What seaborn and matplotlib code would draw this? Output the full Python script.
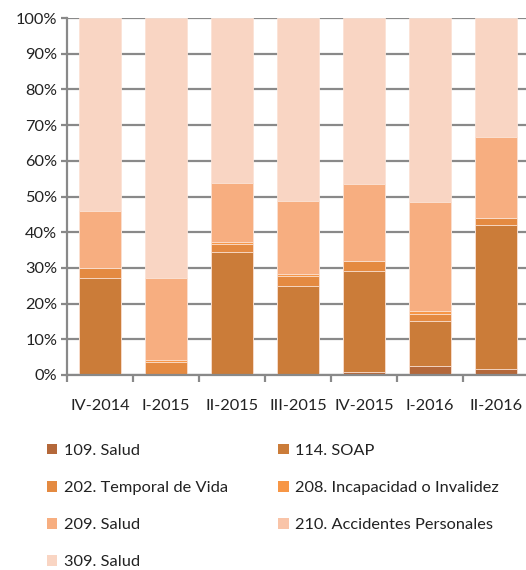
import numpy as np
import pandas as pd
import matplotlib
matplotlib.use("Agg")
import matplotlib.pyplot as plt
from matplotlib.patches import Patch
from matplotlib.ticker import FixedLocator, FuncFormatter
import seaborn as sns

categories = ['IV-2014', 'I-2015', 'II-2015', 'III-2015', 'IV-2015', 'I-2016', 'II-2016']
series_names = ['109. Salud', '114. SOAP', '202. Temporal de Vida',
                '208. Incapacidad o Invalidez', '209. Salud',
                '210. Accidentes Personales', '309. Salud']
s109 = [0.0, 0.0, 0.0, 0.4, 0.9, 2.4, 1.6]
s114 = [27.1, 0.3, 34.5, 24.6, 28.3, 12.6, 40.5]
s202 = [3.0, 3.3, 2.3, 2.7, 2.7, 2.2, 1.9]
s208 = [0.0, 0.7, 0.5, 0.5, 0.0, 0.7, 0.0]
s209 = [15.8, 22.9, 16.5, 20.4, 21.7, 30.6, 22.6]
s210 = [0.0, 0.0, 0.0, 0.0, 0.0, 0.0, 0.0]
s309 = [54.1, 72.8, 46.2, 51.4, 46.4, 51.5, 33.4]
colors = ['#B4683A', '#CB7C39', '#E48A41', '#F79646', '#F7AE80', '#F9C4A8', '#F9D5C3']

sns.set_theme(style="white")
plt.rcParams['font.family'] = ['Lato', 'DejaVu Sans']
FS = 11.8

df = pd.DataFrame({'period': categories})
series = [s109, s114, s202, s208, s209, s210, s309]
cum = np.cumsum(np.array(series), axis=0)

fig = plt.figure(figsize=(5.26, 5.70), dpi=100)
ax = fig.add_axes([67/526, 1 - 375/570, (529 - 67)/526, (375 - 18)/570])

for i in range(len(series) - 1, -1, -1):
    d = df.copy()
    d['val'] = cum[i]
    sns.barplot(data=d, x='period', y='val', color=colors[i], width=0.65,
                edgecolor='#FBE3D6', linewidth=0.6, saturation=1, ax=ax, zorder=2)

ax.set_xlim(-0.5, 6.5)
ax.set_ylim(0, 100)
ax.set_xlabel('')
ax.set_ylabel('')
ax.set_yticks(np.arange(0, 101, 10))
ax.yaxis.set_major_formatter(FuncFormatter(lambda v, p: f"{v:.0f}%"))
ax.grid(axis='y', color='#898989', linewidth=1.6)
ax.set_axisbelow(True)
for s in ['top', 'right']:
    ax.spines[s].set_visible(False)
for s in ['left', 'bottom']:
    ax.spines[s].set_color('#898989')
    ax.spines[s].set_linewidth(1.6)
ax.tick_params(axis='y', which='major', left=True, length=4, width=1.6,
               color='#898989', labelsize=FS, labelcolor='#222222', pad=3)
ax.tick_params(axis='x', which='major', bottom=False, labelsize=FS,
               labelcolor='#222222', pad=11)
ax.xaxis.set_minor_locator(FixedLocator(np.arange(-0.5, 7.0, 1.0)))
ax.tick_params(axis='x', which='minor', bottom=True, length=5, width=1.6,
               color='#898989')

handles = [Patch(facecolor=c, edgecolor='none') for c in colors]
order = [0, 2, 4, 6, 1, 3, 5]
fig.legend([handles[i] for i in order], [series_names[i] for i in order],
           ncol=2, loc='upper left', bbox_to_anchor=(40/526, 1 - 437/570),
           frameon=False, fontsize=FS, handlelength=0.65, handleheight=0.65,
           handletextpad=0.4, labelspacing=1.40, columnspacing=3.05,
           labelcolor='#222222', borderaxespad=0, borderpad=0.4)

fig.savefig('out.png', dpi=100)
